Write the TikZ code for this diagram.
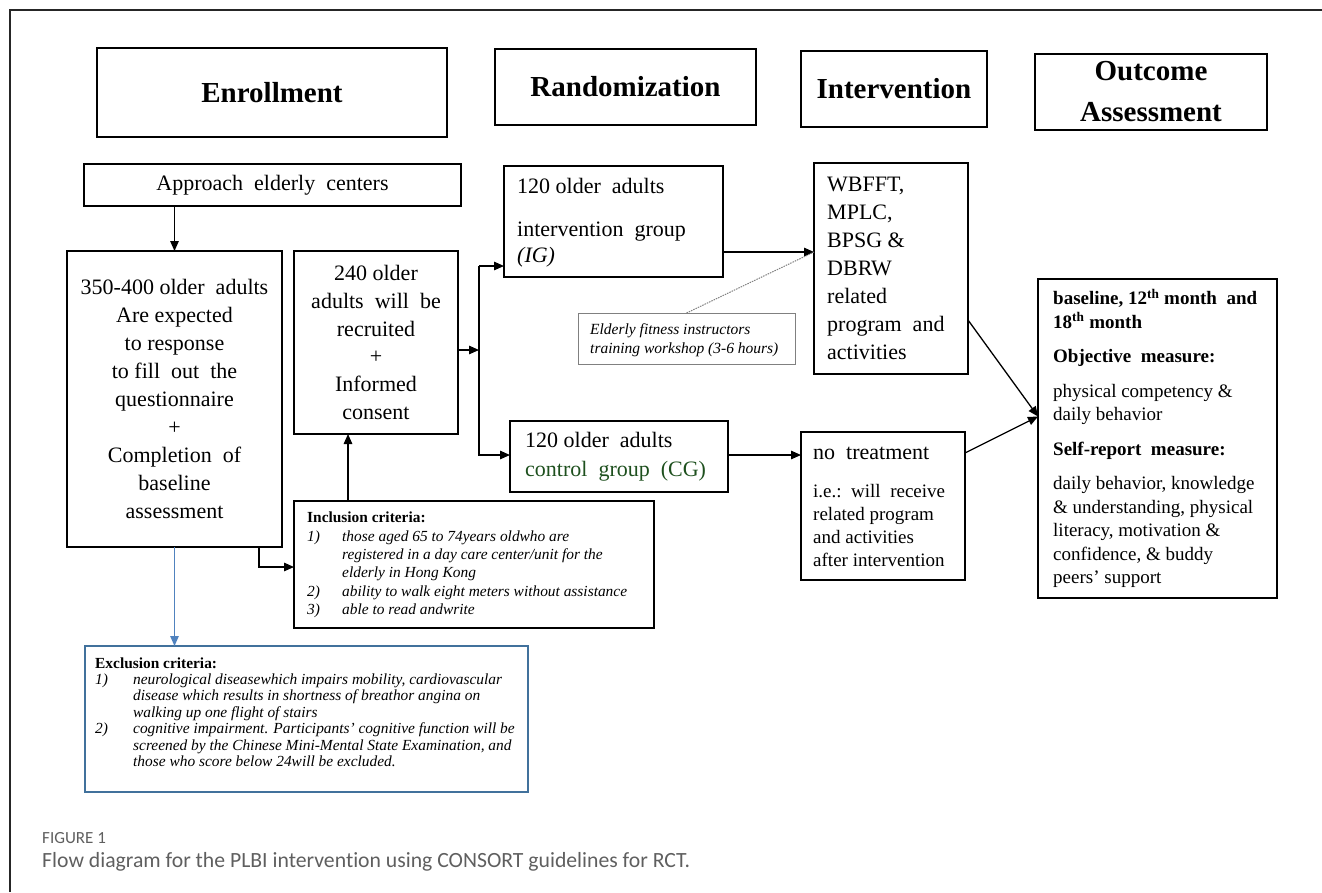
\documentclass[tikz,border=0pt]{standalone}
\usepackage{fontspec}
\setmainfont{Liberation Serif}
\newfontfamily\capfont[Ligatures={NoCommon,NoDiscretionary,NoRare}]{Carlito}
\usetikzlibrary{arrows.meta,calc}
\definecolor{cggreen}{RGB}{30,80,30}
\definecolor{exblue}{RGB}{65,113,156}
\definecolor{arblue}{RGB}{80,130,190}
\definecolor{capgray}{RGB}{95,95,95}
\newcommand{\smf}{\fontsize{19}{23}\selectfont}
\begin{document}
\begin{tikzpicture}[x=1pt,y=-1pt,
  bx/.style={draw=black, line width=1.3pt, inner sep=0pt, outer sep=0pt},
  hdr/.style={bx, line width=1.7pt, font=\fontsize{29}{41}\selectfont\bfseries, align=center},
  txt/.style={anchor=west, inner sep=0pt, align=left},
  arr/.style={line width=1.3pt, -{Triangle[length=10pt,width=8.5pt]}},
  barr/.style={arr, draw=arblue, -{Triangle[length=10pt,width=8.5pt,fill=arblue]}},
  ln/.style={line width=1.3pt}
]
\useasboundingbox (0,0) rectangle (1322,892);
% frame
\draw[line width=1.5pt, black!85] (10,892) -- (10,10) -- (1322,10);

% headers
\node[hdr, minimum width=350pt, minimum height=89pt] (hEnr) at (272,92.5) {Enrollment};
\node[hdr, minimum width=261pt, minimum height=76pt] (hRnd) at (625.5,87) {Randomization};
\node[hdr, minimum width=186pt, minimum height=76pt] (hInt) at (894,89) {Intervention};
\node[hdr, minimum width=232pt, minimum height=76pt] (hOut) at (1151,92) {Outcome\\Assessment};

% enrollment column
\node[bx, minimum width=377pt, minimum height=42pt, font=\fontsize{22}{26}\selectfont] (appr) at (272.5,185) {Approach\enspace elderly\ \ centers};
\node[bx, minimum width=215pt, minimum height=296pt, align=center, font=\fontsize{22}{28}\selectfont] (b350) at (174.5,399)
 {350-400 older\enspace adults\\Are expected\\to response\\to fill\enspace out\enspace the\\questionnaire\\+\\Completion\enspace of\\baseline\\assessment};
\node[bx, minimum width=164pt, minimum height=183pt, align=center, font=\fontsize{22}{27.8}\selectfont] (b240) at (376,342.5)
 {240 older\\adults\enspace will\enspace be\\recruited\\+\\Informed\\consent};

% inclusion
\node[bx, minimum width=360pt, minimum height=127pt] (inc) at (474,564.5) {};
\node[txt, font=\fontsize{15.4}{18.4}\selectfont] (incT) at (307,565) {%
\begin{tabular}{@{}p{35pt}@{}l@{}}
\multicolumn{2}{@{}l}{\textbf{Inclusion criteria:}}\\
\textit{1)} & \textit{those aged 65 to 74years oldwho are}\\
 & \textit{registered in a day care center/unit for the}\\
 & \textit{elderly in Hong Kong}\\
\textit{2)} & \textit{ability to walk eight meters without assistance}\\
\textit{3)} & \textit{able to read andwrite}
\end{tabular}};

% exclusion
\node[bx, draw=exblue, minimum width=443pt, minimum height=146pt] (exc) at (306.5,719) {};
\node[txt, font=\fontsize{15.4}{16.4}\selectfont] (excT) at (95,714) {%
\begin{tabular}{@{}p{38pt}@{}l@{}}
\multicolumn{2}{@{}l}{\textbf{Exclusion criteria:}}\\
\textit{1)} & \textit{neurological diseasewhich impairs mobility, cardiovascular}\\
 & \textit{disease which results in shortness of breathor angina on}\\
 & \textit{walking up one flight of stairs}\\
\textit{2)} & \textit{cognitive impairment. Participants' cognitive function will be}\\
 & \textit{screened by the Chinese Mini-Mental State Examination, and}\\
 & \textit{those who score below 24will be excluded.}
\end{tabular}};

% randomization column
\node[bx, minimum width=219pt, minimum height=111pt] (ig) at (613.5,221.5) {};
\node[txt, font=\fontsize{22}{26}\selectfont] (igT) at (517,223) {120 older\enspace adults\\[17pt]intervention\enspace group\\\textit{(IG)}};
\node[bx, minimum width=218pt, minimum height=71pt] (cg) at (619,456.5) {};
\node[txt, font=\fontsize{22}{29}\selectfont] (cgT) at (525,457) {120 older\enspace adults\\\textcolor{cggreen}{control\enspace group\enspace (CG)}};
\node[bx, draw=gray, line width=1pt, minimum width=217pt, minimum height=51pt] (ws) at (686.5,338.5) {};
\node[txt, font=\fontsize{15.5}{19}\selectfont\itshape] (wsT) at (590,340.5) {Elderly fitness instructors\\training workshop (3-6 hours)};

% intervention column
\node[bx, minimum width=154pt, minimum height=211pt] (wb) at (891,268.5) {};
\node[txt, font=\fontsize{22}{28}\selectfont] (wbT) at (827,268.5) {WBFFT,\\MPLC,\\BPSG \&\\DBRW\\related\\program\enspace and\\activities};
\node[bx, minimum width=164pt, minimum height=148pt] (nt) at (883,506) {};
\node[txt, font=\fontsize{22}{23}\selectfont] (ntT) at (813,507) {no\enspace treatment\\[15pt]\smf i.e.:\enspace will\enspace receive\\\smf related program\\\smf and activities\\\smf after intervention};

% outcome column
\node[bx, minimum width=239pt, minimum height=319pt] (oc) at (1157.5,438.5) {};
\node[txt, font=\fontsize{19}{23.5}\selectfont] (ocT) at (1053,438.5) {%
\textbf{baseline, 12\textsuperscript{th} month\enspace and}\\
\textbf{18\textsuperscript{th} month}\\[11pt]
\textbf{Objective\enspace measure:}\\[11pt]
physical competency \&\\
daily behavior\\[11pt]
\textbf{Self-report\enspace measure:}\\[11pt]
daily behavior, knowledge\\
\& understanding, physical\\
literacy, motivation \&\\
confidence, \& buddy\\
peers' support};

% connectors
\draw[arr] (appr.south -| b350.north) -- (b350.north);
\coordinate (split) at (479,350);
\draw[arr] (b240.east |- split) -- (split);
\coordinate (igJ) at (479,266);
\draw[arr] (igJ) -- (igJ -| ig.west);
\draw[arr] (igJ) |- ($(cg.west)+(0,-1.5)$);
\draw[arr] ($(cg.east)+(0,-1.5)$) -- ($(cg.east -| nt.west)+(0,-1.5)$);
\coordinate (wbIn) at ($(wb.west)+(0,-16.5)$);
\draw[arr] (ig.east |- wbIn) -- (wbIn);
\draw[gray, line width=1pt, dash pattern=on 1.5pt off 1pt] (ws.north) -- (wbIn);
\coordinate (outIn) at ($(oc.west)+(0,-22)$);
\draw[arr] ($(wb.east)+(0,51.5)$) -- (outIn);
\draw[arr] ($(nt.east)+(0,-53)$) -- (outIn);
\coordinate (incUp) at ($(inc.north west)+(54,0)$);
\draw[arr] (incUp) -- (incUp |- b240.south);
\coordinate (encDn) at ($(b350.south east)+(-23,0)$);
\draw[arr] (encDn) |- ($(inc.west)+(0,2.5)$);
\draw[barr] (b350.south) -- (b350.south |- exc.north);

% caption
\node[anchor=west, inner sep=0pt, text=capgray, font=\capfont\fontsize{17}{20}\selectfont] (figlab) at (42,838) {FIGURE 1};
\node[anchor=west, inner sep=0pt, text=capgray, font=\capfont\fontsize{21.7}{25}\selectfont] (figcap) at (42,862) {Flow diagram for the PLBI intervention using CONSORT guidelines for RCT.};
\end{tikzpicture}
\end{document}
